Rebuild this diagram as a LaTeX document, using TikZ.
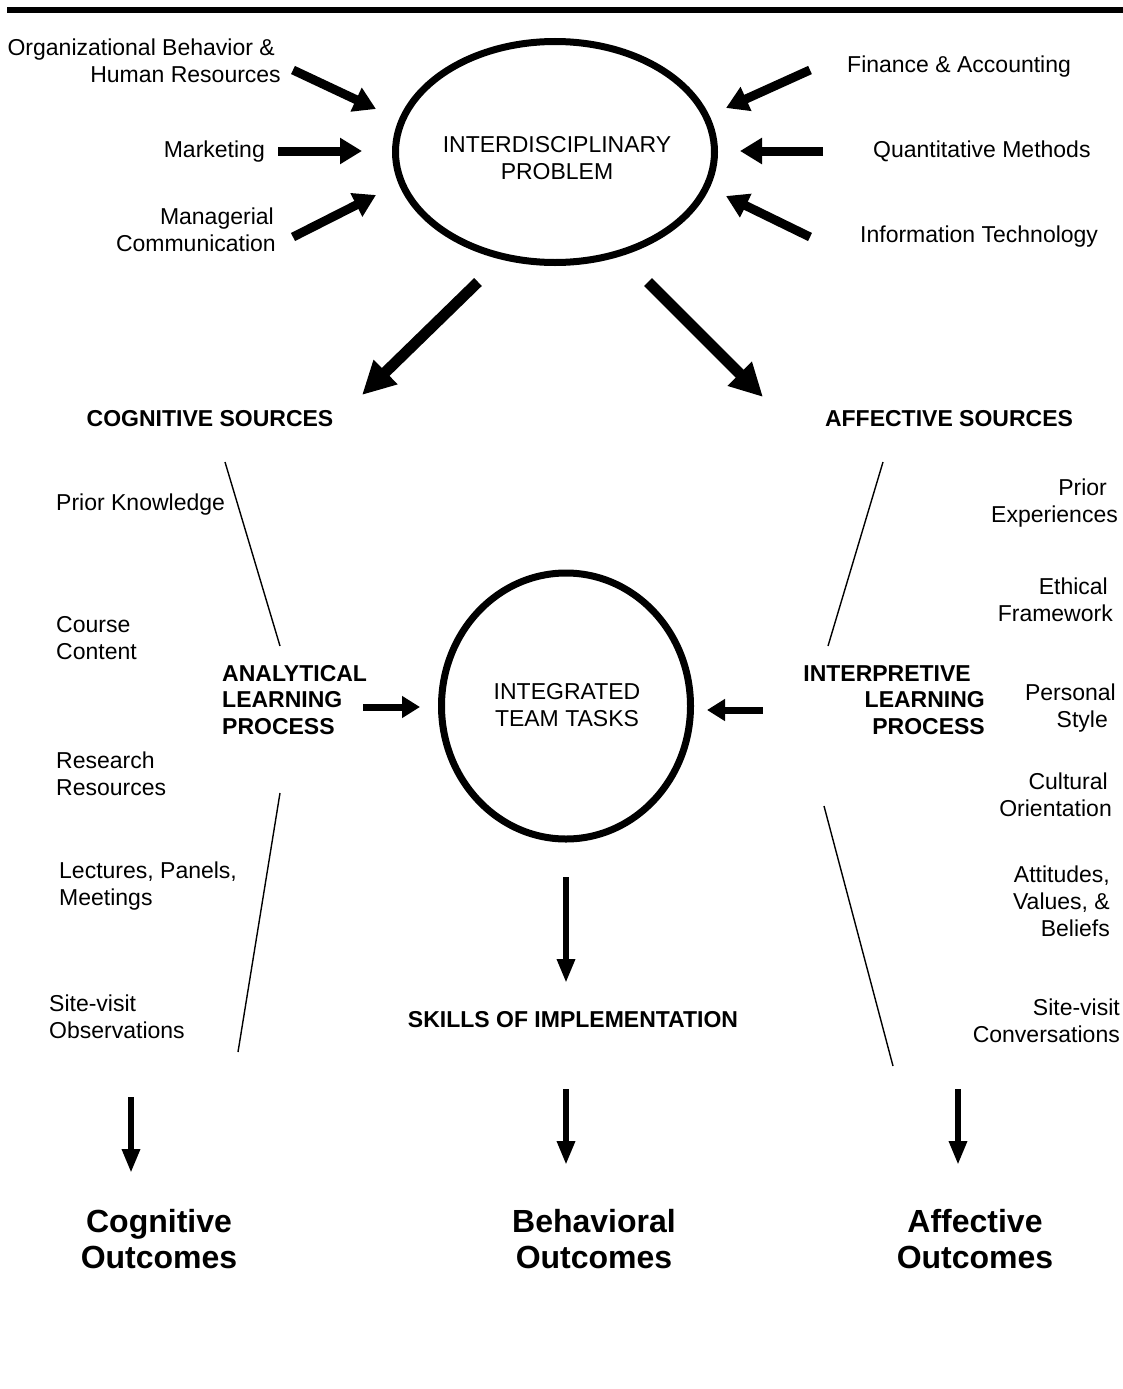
\documentclass[tikz,border=0pt]{standalone}
\usepackage{fontspec}
\setmainfont{Liberation Sans}
\usetikzlibrary{arrows.meta,shapes.geometric}
\begin{document}
\begin{tikzpicture}[x=1pt,y=-1pt,
  txt/.style={font=\fontsize{23}{27}\selectfont, inner sep=0pt},
  hdr/.style={font=\fontsize{23}{26.5}\selectfont\bfseries, inner sep=0pt},
  outc/.style={font=\fontsize{32}{36.5}\selectfont\bfseries, inner sep=0pt, align=center},
  oval/.style={ellipse, draw, line width=7pt, inner sep=0pt},
  arrA/.style={line width=9pt, -{Triangle[length=22pt,width=25pt]}},
  arrB/.style={line width=11pt, -{Triangle[length=33pt,width=32pt]}},
  arrC/.style={line width=7pt, -{Triangle[length=18pt,width=21pt]}},
  arrD/.style={line width=6.5pt, -{Triangle[length=24pt,width=17pt]}},
  thin/.style={line width=1.4pt}
]
\useasboundingbox (0,0) rectangle (1123,1389);
\fill[white] (0,0) rectangle (1123,1389);

% top rule
\coordinate (ruleL) at (7,10);
\coordinate (ruleR) at (1123,10);
\draw[line width=6pt] (ruleL) -- (ruleR);

% interdisciplinary problem
\node[oval, minimum width=319pt, minimum height=221pt] (ip) at (555,152) {};
\node[txt, align=center] (iptext) at (557,158) {INTERDISCIPLINARY\\PROBLEM};

% disciplines
\node[txt, align=right, anchor=east] (ob) at (281,61) {Organizational Behavior \&\hspace*{6pt}\\Human Resources};
\node[txt, anchor=east] (mkt) at (265,152) {Marketing};
\node[txt, align=right, anchor=east] (mc) at (276,230) {Managerial\hspace*{2pt}\\Communication};
\node[txt, anchor=west] (fa) at (847,67) {Finance \& Accounting};
\node[txt, anchor=west] (qm) at (873,151) {Quantitative Methods};
\node[txt, anchor=west] (it) at (860,237) {Information Technology};

\coordinate (obS) at (293,70);   \coordinate (obT) at (376,109);
\coordinate (mkS) at (278,151);  \coordinate (mkT) at (362,151);
\coordinate (mcS) at (293,237);  \coordinate (mcT) at (376,195);
\coordinate (faS) at (810,70);   \coordinate (faT) at (726,108);
\coordinate (qmS) at (823,151);  \coordinate (qmT) at (740,151);
\coordinate (itS) at (810,237);  \coordinate (itT) at (726,196);
\draw[arrA] (obS) -- (obT);
\draw[arrA] (mkS) -- (mkT);
\draw[arrA] (mcS) -- (mcT);
\draw[arrA] (faS) -- (faT);
\draw[arrA] (qmS) -- (qmT);
\draw[arrA] (itS) -- (itT);

% sources
\node[hdr] (cs) at (210,419) {COGNITIVE SOURCES};
\node[hdr] (as) at (949,419) {AFFECTIVE SOURCES};
\coordinate (bLS) at (478,282); \coordinate (bLT) at (362,395);
\coordinate (bRS) at (648,282); \coordinate (bRT) at (763,397);
\draw[arrB] (bLS) -- (bLT);
\draw[arrB] (bRS) -- (bRT);

% bracket lines
\coordinate (l1a) at (225,462); \coordinate (l1b) at (280,646);
\coordinate (l2a) at (280,793); \coordinate (l2b) at (238,1052);
\coordinate (r1a) at (883,462); \coordinate (r1b) at (828,646);
\coordinate (r2a) at (824,806); \coordinate (r2b) at (893,1066);
\draw[thin] (l1a) -- (l1b);
\draw[thin] (l2a) -- (l2b);
\draw[thin] (r1a) -- (r1b);
\draw[thin] (r2a) -- (r2b);

% cognitive list
\node[txt, align=left, anchor=west] (pk) at (56,505) {Prior Knowledge};
\node[txt, align=left, anchor=west] (cc) at (56,638) {Course\\Content};
\node[txt, align=left, anchor=west] (rr) at (56,774) {Research\\Resources};
\node[txt, align=left, anchor=west] (lpm) at (59,886) {Lectures, Panels,\\Meetings};
\node[txt, align=left, anchor=west] (svo) at (49,1017) {Site-visit\\Observations};

% affective list
\node[txt, align=right, anchor=east] (pe) at (1118,503) {Prior\hspace*{11pt}\\Experiences};
\node[txt, align=right, anchor=east] (ef) at (1113,600) {Ethical\hspace*{5pt}\\Framework};
\node[txt, align=right, anchor=east] (ps) at (1116,708) {Personal\\Style\hspace*{8pt}};
\node[txt, align=right, anchor=east] (co) at (1112,795) {Cultural\hspace*{4pt}\\Orientation};
\node[txt, align=right, anchor=east] (avb) at (1110,901) {Attitudes,\\Values, \&\\Beliefs};
\node[txt, align=right, anchor=east] (svc) at (1120,1021) {Site-visit\\Conversations};

% learning processes
\node[hdr, align=left, anchor=west] (alp) at (222,700) {ANALYTICAL\\LEARNING\\PROCESS};
\node[hdr, align=right, anchor=east] (ilp) at (985,700) {INTERPRETIVE\hspace*{14pt}\\LEARNING\hspace*{9pt}\\PROCESS};

% integrated team tasks
\node[oval, minimum width=249pt, minimum height=266pt] (itt) at (566,706) {};
\node[txt, align=center] (itttext) at (567,705) {INTEGRATED\\TEAM TASKS};
\coordinate (aLS) at (363,707); \coordinate (aLT) at (420,707);
\coordinate (aRS) at (763,710); \coordinate (aRT) at (707,710);
\draw[arrC] (aLS) -- (aLT);
\draw[arrC] (aRS) -- (aRT);

% skills
\coordinate (dS) at (566,877); \coordinate (dT) at (566,983);
\draw[arrD] (dS) -- (dT);
\node[hdr] (sk) at (573,1020) {SKILLS OF IMPLEMENTATION};

% outcomes
\coordinate (o1S) at (131,1097); \coordinate (o1T) at (131,1173);
\coordinate (o2S) at (566,1089); \coordinate (o2T) at (566,1165);
\coordinate (o3S) at (958,1089); \coordinate (o3T) at (958,1165);
\draw[arrD] (o1S) -- (o1T);
\draw[arrD] (o2S) -- (o2T);
\draw[arrD] (o3S) -- (o3T);
\node[outc] (cogo) at (159,1239) {Cognitive\\Outcomes};
\node[outc] (beho) at (594,1239) {Behavioral\\Outcomes};
\node[outc] (affo) at (975,1239) {Affective\\Outcomes};
\end{tikzpicture}
\end{document}
